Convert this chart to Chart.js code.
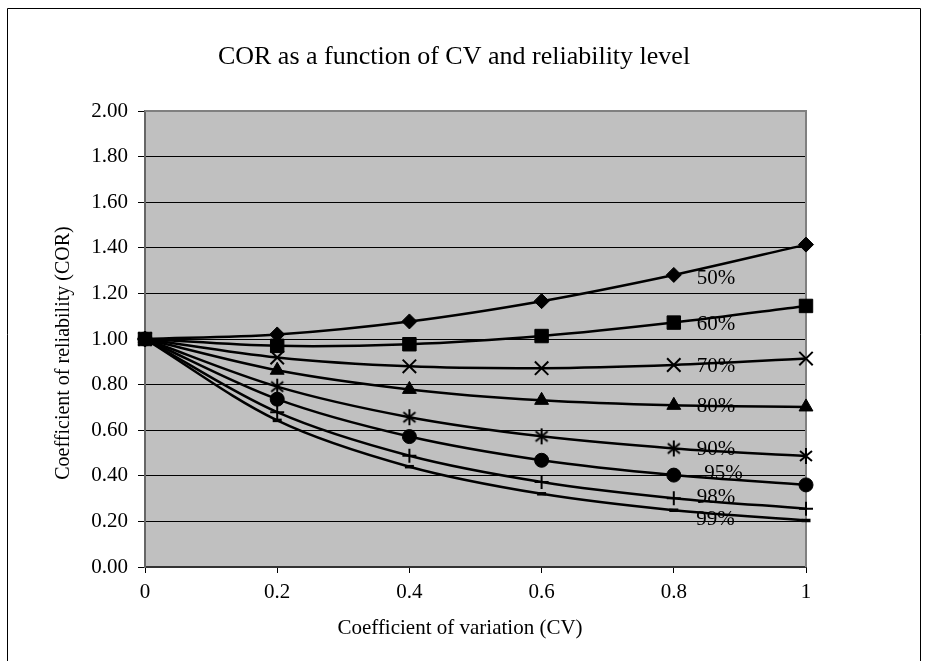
<!DOCTYPE html>
<html>
<head>
<meta charset="utf-8">
<script src="https://cdn.jsdelivr.net/npm/chart.js@4/dist/chart.umd.min.js"></script>
<style>
  html, body { margin: 0; padding: 0; background: #ffffff; }
  #wrap { width: 929px; height: 661px; position: relative; }
</style>
</head>
<body>
<div id="wrap"><canvas id="c" width="929" height="661"></canvas></div>
<script>
// ---- data ----
const cv = [0, 0.2, 0.4, 0.6, 0.8, 1];
const levels = ['50%', '60%', '70%', '80%', '90%', '95%', '98%', '99%'];
const cor50 = [1.000, 1.020, 1.077, 1.166, 1.281, 1.414];
const cor60 = [1.000, 0.970, 0.977, 1.013, 1.072, 1.145];
const cor70 = [1.000, 0.919, 0.880, 0.872, 0.886, 0.914];
const cor80 = [1.000, 0.863, 0.779, 0.731, 0.709, 0.702];
const cor90 = [1.000, 0.791, 0.657, 0.573, 0.520, 0.487];
const cor95 = [1.000, 0.736, 0.572, 0.468, 0.403, 0.360];
const cor98 = [1.000, 0.679, 0.488, 0.373, 0.302, 0.256];
const cor99 = [1.000, 0.643, 0.440, 0.321, 0.249, 0.204];
const xTickLabels = ['0', '0.2', '0.4', '0.6', '0.8', '1'];
const yTickLabels = ['0.00', '0.20', '0.40', '0.60', '0.80', '1.00', '1.20', '1.40', '1.60', '1.80', '2.00'];
const chartTitle = 'COR as a function of CV and reliability level';
const xTitle = 'Coefficient of variation (CV)';
const yTitle = 'Coefficient of reliability (COR)';

const series = [cor50, cor60, cor70, cor80, cor90, cor95, cor98, cor99];

// ---- styling ----
const FONT = '"Liberation Serif", "Times New Roman", serif';

// asterisk marker (X with a vertical bar)
function makeAsterisk() {
  const c = document.createElement('canvas');
  c.width = 16; c.height = 18;
  const g = c.getContext('2d');
  g.strokeStyle = '#000'; g.lineWidth = 2;
  g.beginPath();
  g.moveTo(8, 1); g.lineTo(8, 17);
  g.moveTo(2, 4); g.lineTo(14, 14);
  g.moveTo(14, 4); g.lineTo(2, 14);
  g.stroke();
  return c;
}
const markerStyles = ['rectRot', 'rect', 'crossRot', 'triangle', makeAsterisk(), 'circle', 'cross', 'line'];
const markerRadius = [7.5, 9.5, 9.5, 8, 8, 7, 7, 4.5];
const markerBorder = [1, 1, 2, 1, 2, 1, 2, 3.5];

const datasets = series.map((vals, i) => ({
  label: levels[i],
  data: cv.map((x, j) => ({ x: x, y: vals[j] })),
  borderColor: '#000000',
  backgroundColor: '#000000',
  borderWidth: 2.5,
  tension: 0.33,
  pointStyle: markerStyles[i],
  pointRadius: markerRadius[i],
  pointHoverRadius: markerRadius[i],
  pointBorderWidth: markerBorder[i],
  pointBackgroundColor: '#000000',
  pointBorderColor: '#000000',
  clip: false
}));

// label positions in data units (annotation placement)
const annot = {
  x: [0.864, 0.864, 0.864, 0.864, 0.864, 0.875, 0.864, 0.863],
  y: [1.264, 1.062, 0.878, 0.703, 0.515, 0.410, 0.304, 0.208]
};

const decor = {
  id: 'decor',
  beforeDraw(chart) {
    const { ctx, chartArea: a } = chart;
    ctx.save();
    ctx.fillStyle = '#ffffff';
    ctx.fillRect(0, 0, chart.width, chart.height);
    // outer frame
    ctx.strokeStyle = '#000000';
    ctx.lineWidth = 1;
    ctx.beginPath();
    ctx.moveTo(7.5, 661);
    ctx.lineTo(7.5, 8.5);
    ctx.lineTo(920.5, 8.5);
    ctx.lineTo(920.5, 661);
    ctx.stroke();
    // plot background
    ctx.fillStyle = '#c0c0c0';
    ctx.fillRect(a.left, a.top, a.right - a.left, a.bottom - a.top);
    ctx.restore();
  },
  beforeDatasetsDraw(chart) {
    const { ctx, chartArea: a } = chart;
    ctx.save();
    ctx.strokeStyle = '#808080';
    ctx.lineWidth = 2;
    ctx.beginPath();
    ctx.moveTo(a.left, a.top);
    ctx.lineTo(a.right, a.top);
    ctx.lineTo(a.right, a.bottom);
    ctx.stroke();
    ctx.restore();
  },
  afterDraw(chart) {
    const { ctx } = chart;
    const xs = chart.scales.x, ys = chart.scales.y;
    ctx.save();
    ctx.fillStyle = '#000000';
    ctx.textAlign = 'center';
    ctx.textBaseline = 'middle';
    ctx.font = '26px ' + FONT;
    ctx.fillText(chartTitle, 454, 57);
    ctx.font = '21px ' + FONT;
    ctx.fillText(xTitle, 460, 628);
    ctx.font = '20px ' + FONT;
    ctx.save();
    ctx.translate(64, 353);
    ctx.rotate(-Math.PI / 2);
    ctx.fillText(yTitle, 0, 0);
    ctx.restore();
    ctx.font = '21px ' + FONT;
    levels.forEach((lab, i) => {
      ctx.fillText(lab, xs.getPixelForValue(annot.x[i]), ys.getPixelForValue(annot.y[i]));
    });
    ctx.restore();
  }
};

new Chart(document.getElementById('c'), {
  type: 'line',
  data: { datasets },
  options: {
    responsive: false,
    animation: false,
    events: [],
    layout: { padding: { top: 111, right: 123, left: 0, bottom: 0 }, autoPadding: false },
    plugins: { legend: { display: false }, title: { display: false }, tooltip: { enabled: false } },
    scales: {
      x: {
        type: 'linear',
        min: 0, max: 1,
        afterFit(s) { s.height = 94; },
        afterBuildTicks(s) { s.ticks = cv.map(v => ({ value: v })); },
        ticks: {
          callback: (v, i) => xTickLabels[i],
          color: '#000000',
          font: { family: FONT, size: 21 },
          padding: 7,
          maxRotation: 0
        },
        grid: { drawOnChartArea: false, drawTicks: true, tickLength: 6, tickColor: '#000000' },
        border: { color: '#333333', width: 2 }
      },
      y: {
        type: 'linear',
        min: 0, max: 2,
        afterFit(s) { s.width = 145; },
        afterBuildTicks(s) { s.ticks = yTickLabels.map((t, i) => ({ value: i * 0.2 })); },
        ticks: {
          callback: (v, i) => yTickLabels[i],
          color: '#000000',
          font: { family: FONT, size: 21 },
          padding: 10
        },
        grid: { color: '#000000', lineWidth: 1, drawTicks: true, tickLength: 7, tickColor: '#000000' },
        border: { color: '#666666', width: 2 }
      }
    }
  },
  plugins: [decor]
});
</script>
</body>
</html>
